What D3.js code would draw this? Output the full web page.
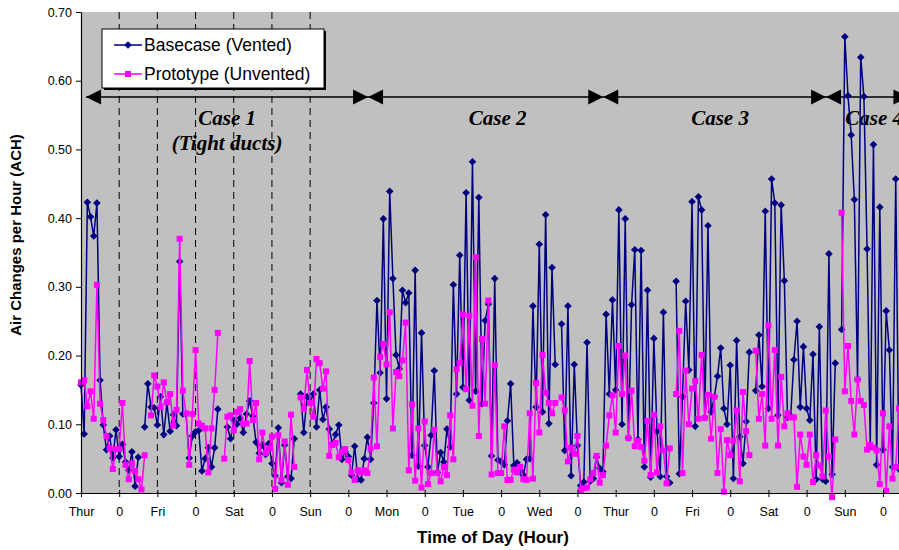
<!DOCTYPE html>
<html>
<head>
<meta charset="utf-8">
<script src="https://cdn.jsdelivr.net/npm/d3@7"></script>
<style>
body { margin: 0; background: #fff; }
text { font-family: Arial, "Liberation Sans", sans-serif; }
</style>
</head>
<body>
<div class="chart"></div>
<script>
// hourly readings starting Thursday noon, null = missing hour
var basecase = [
    0.157,0.086,0.423,0.402,0.374,0.422,0.164,0.099,0.063,0.083,
    0.051,0.092,0.053,0.071,0.045,0.033,0.060,0.010,0.052,null,
    0.096,0.159,0.125,0.124,0.099,0.140,0.085,0.131,0.090,0.114,
    0.098,0.337,0.115,0.115,0.051,0.083,0.089,0.091,0.032,0.050,
    0.066,0.038,0.066,0.122,null,null,0.096,0.079,0.106,0.100,
    0.109,0.088,0.115,0.134,0.112,0.074,0.058,0.070,0.056,0.072,
    0.043,0.025,0.095,0.015,0.070,0.024,0.021,0.079,null,0.144,
    0.088,0.140,0.131,0.144,0.096,0.150,0.107,0.125,0.093,0.072,
    0.085,0.099,0.049,0.060,0.053,0.026,0.068,0.020,0.019,0.050,
    0.081,0.049,0.131,0.280,0.175,0.399,0.137,0.439,0.312,0.201,
    0.181,0.295,0.277,0.291,0.055,0.324,0.039,0.233,0.069,0.038,
    0.084,0.178,0.030,0.059,0.045,0.093,0.067,0.303,0.144,0.346,
    0.154,0.437,0.135,0.482,0.148,0.430,0.130,0.251,0.275,0.054,
    0.312,0.048,0.046,0.041,0.105,0.159,0.040,0.044,0.033,0.026,
    0.049,0.050,0.272,0.125,0.362,0.118,0.405,0.101,0.328,0.187,
    null,0.246,0.062,0.272,0.025,0.187,0.069,0.011,0.016,0.219,
    0.017,0.021,0.052,0.036,0.031,0.260,0.144,0.281,0.150,0.412,
    0.100,0.399,0.080,0.274,0.354,0.078,0.353,0.038,0.295,0.023,
    0.225,0.090,0.024,0.263,0.024,0.015,null,0.308,0.028,0.140,
    0.279,0.179,0.424,0.097,0.431,0.412,0.110,0.389,0.118,0.140,
    0.170,0.211,0.123,0.100,0.186,0.021,0.222,0.082,0.043,0.104,
    0.205,null,0.149,0.230,0.155,0.410,0.123,0.457,0.422,0.113,
    0.419,0.309,0.110,0.112,0.194,0.250,0.125,0.213,0.123,0.106,
    0.202,0.020,0.242,0.020,0.017,0.348,0.027,0.189,null,0.238,
    0.664,0.578,0.521,0.427,0.165,0.634,0.577,0.355,0.068,0.507,
    0.041,0.416,0.063,0.265,0.208,0.038,0.457,0.035,0.100
];
var prototype = [
    0.161,0.164,0.126,0.148,0.108,0.303,0.130,0.106,0.083,0.065,
    0.035,0.064,0.064,0.131,0.041,0.020,0.043,0.032,0.020,0.005,
    0.055,null,0.113,0.171,0.155,0.125,0.161,0.132,0.144,0.098,
    0.121,0.370,0.149,0.116,0.041,0.115,0.208,0.101,0.098,0.094,
    0.030,0.094,0.150,0.233,null,0.050,0.111,0.113,0.091,0.118,
    0.122,0.101,0.101,0.192,0.106,0.131,0.049,0.088,0.058,0.065,
    0.082,0.006,0.084,0.019,0.075,0.012,0.114,0.038,null,0.139,
    0.122,0.179,0.131,0.111,0.195,0.189,0.152,0.177,0.054,0.070,
    0.073,0.052,0.060,0.064,0.048,0.030,0.019,0.033,0.030,0.033,
    0.029,0.065,0.168,0.068,0.198,0.217,0.187,0.263,0.094,0.176,
    0.170,0.193,0.248,0.033,0.129,0.018,0.094,0.008,0.104,0.013,
    0.029,0.092,0.029,0.017,0.038,0.026,0.113,0.049,0.180,0.189,
    0.260,0.151,0.258,0.127,0.343,0.083,0.224,0.130,0.280,0.027,
    0.186,0.029,0.029,0.097,0.019,0.019,0.034,0.030,0.038,0.020,
    0.019,0.116,0.021,0.160,0.088,0.201,0.146,0.131,0.116,0.131,
    null,0.139,0.120,0.046,0.066,0.057,0.083,0.004,0.007,0.008,
    0.020,0.029,0.054,0.015,0.026,0.069,0.113,0.142,0.088,0.214,
    0.144,0.200,0.080,0.149,0.068,0.076,0.067,0.047,0.105,0.026,
    0.114,0.030,0.097,0.062,0.014,0.065,null,0.144,0.236,0.029,
    0.178,0.100,0.152,0.163,0.108,0.201,0.109,0.143,0.079,0.140,
    0.029,0.093,0.002,0.077,0.055,0.076,0.120,0.017,0.147,0.090,
    0.055,null,0.207,0.108,0.144,0.069,0.244,0.108,0.208,0.069,
    0.169,0.097,0.116,0.110,0.110,0.009,0.085,0.053,0.041,0.085,
    0.016,0.055,0.040,0.024,0.120,0.053,-0.006,0.078,null,0.408,
    0.148,0.214,0.134,0.085,0.165,0.134,0.128,0.063,0.070,0.066,
    0.062,0.013,0.116,0.003,0.097,0.021,0.038,0.123,0.090
];
var tickLabels = ["Thur","0","Fri","0","Sat","0","Sun","0","Mon","0","Tue",
    "0","Wed","0","Thur","0","Fri","0","Sat","0","Sun","0"];
var yTicks = [0, 0.1, 0.2, 0.3, 0.4, 0.5, 0.6, 0.7];
var dashedHours = [12, 24, 36, 48, 60, 72];
var caseNames = ["Case 1", "Case 2", "Case 3", "Case 4"];
var caseFrom = [1.6, 90.2, 164.1, 234.1];
var caseTo = [90.2, 164.1, 234.1, 260];
var caseLabelAt = [45.9, 130.9, 200.8, 249.2];
var seriesNames = ["Basecase (Vented)", "Prototype (Unvented)"];

var W = 899, H = 550;
var plotLeft = 81, plotTop = 12, plotBottom = 493;
var pxPerHour = (883 - 81) / 252;

var svg = d3.select(".chart").append("svg")
    .attr("width", W)
    .attr("height", H);

var x = d3.scaleLinear().domain([0, 260]).range([plotLeft, plotLeft + 260 * pxPerHour]);
var y = d3.scaleLinear().domain([0, 0.7]).range([plotBottom, plotTop]);

// plot area
svg.append("rect")
    .attr("x", plotLeft).attr("y", plotTop)
    .attr("width", W - plotLeft).attr("height", plotBottom - plotTop)
    .attr("fill", "#c0c0c0");

svg.selectAll(".dash")
    .data(dashedHours)
    .enter()
    .append("line")
    .attr("x1", function(d) { return x(d) }).attr("x2", function(d) { return x(d) })
    .attr("y1", plotTop).attr("y2", plotBottom)
    .style("stroke", "#000")
    .style("stroke-width", 1)
    .style("stroke-dasharray", "7,5");

// case arrows
var arrowY = 97;
for (var i = 0; i < caseNames.length; i++) {
    var x0 = x(caseFrom[i]), x1 = x(caseTo[i]);
    svg.append("line")
        .attr("x1", x0).attr("x2", x1)
        .attr("y1", arrowY).attr("y2", arrowY)
        .style("stroke", "#000").style("stroke-width", 1.5);
    svg.append("path")
        .attr("d", "M" + x0 + "," + arrowY + "L" + (x0 + 15) + "," + (arrowY - 7.5) + "L" + (x0 + 15) + "," + (arrowY + 7.5) + "Z")
        .attr("fill", "#000");
    svg.append("path")
        .attr("d", "M" + x1 + "," + arrowY + "L" + (x1 - 15) + "," + (arrowY - 7.5) + "L" + (x1 - 15) + "," + (arrowY + 7.5) + "Z")
        .attr("fill", "#000");
    svg.append("text")
        .attr("x", x(caseLabelAt[i])).attr("y", 125)
        .attr("text-anchor", "middle")
        .style("font-family", "'Liberation Serif', 'Times New Roman', serif")
        .style("font-weight", "bold").style("font-style", "italic")
        .style("font-size", "21px")
        .text(caseNames[i]);
}
svg.append("text")
    .attr("x", x(caseLabelAt[0])).attr("y", 150)
    .attr("text-anchor", "middle")
    .style("font-family", "'Liberation Serif', 'Times New Roman', serif")
    .style("font-weight", "bold").style("font-style", "italic")
    .style("font-size", "21px")
    .text("(Tight ducts)");

// series
var colors = ["#000080", "#ff00ff"];
var allSeries = [basecase, prototype];
var line = d3.line()
    .defined(function(d) { return d.v != null })
    .x(function(d) { return x(d.h) })
    .y(function(d) { return y(d.v) });
var diamond = "M0,-3.8L3.8,0L0,3.8L-3.8,0Z";

allSeries.forEach(function(vals, k) {
    var pts = vals.map(function(v, i) { return {h: i, v: v} });
    svg.append("path")
        .datum(pts)
        .attr("d", line)
        .attr("fill", "none")
        .style("stroke", colors[k])
        .style("stroke-width", 1.5);
    var good = pts.filter(function(d) { return d.v != null });
    if (k == 0) {
        svg.selectAll(".mk0").data(good).enter().append("path")
            .attr("class", "mk0")
            .attr("d", diamond)
            .attr("transform", function(d) { return "translate(" + x(d.h) + "," + y(d.v) + ")" })
            .attr("fill", colors[k]);
    } else {
        svg.selectAll(".mk1").data(good).enter().append("rect")
            .attr("class", "mk1")
            .attr("x", function(d) { return x(d.h) - 3 })
            .attr("y", function(d) { return y(d.v) - 3 })
            .attr("width", 6).attr("height", 6)
            .attr("fill", colors[k]);
    }
});

// axes
var yAxis = d3.axisLeft(y)
    .tickValues(yTicks)
    .tickFormat(d3.format(".2f"))
    .tickSizeInner(5).tickSizeOuter(0);
var gy = svg.append("g").attr("transform", "translate(" + plotLeft + ",0)").call(yAxis);
gy.selectAll("text").style("font-size", "12.5px").attr("x", -9);

var xAxis = d3.axisBottom(x)
    .tickValues(d3.range(0, 253, 12))
    .tickFormat(function(d, i) { return tickLabels[i] })
    .tickSizeInner(4).tickSizeOuter(0);
var gx = svg.append("g").attr("transform", "translate(0," + plotBottom + ")").call(xAxis);
gx.selectAll("line").attr("y1", -3);
gx.selectAll("text").style("font-size", "12.5px").attr("y", 14);
svg.selectAll(".domain").style("stroke", "#000").style("stroke-width", 1.2);

svg.append("text")
    .attr("x", 493).attr("y", 543)
    .attr("text-anchor", "middle")
    .style("font-weight", "bold").style("font-size", "17px")
    .text("Time of Day (Hour)");
svg.append("text")
    .attr("transform", "translate(21,235) rotate(-90)")
    .attr("text-anchor", "middle")
    .style("font-weight", "bold").style("font-size", "15px")
    .text("Air Changes per Hour (ACH)");

// legend
var lg = svg.append("g").attr("transform", "translate(102,29)");
lg.append("rect").attr("x", 2).attr("y", 2).attr("width", 222).attr("height", 59).attr("fill", "#000");
lg.append("rect").attr("x", 0).attr("y", 0).attr("width", 222).attr("height", 59)
    .attr("fill", "#fff").style("stroke", "#000").style("stroke-width", 1);
seriesNames.forEach(function(name, k) {
    var cy = 16 + k * 29;
    lg.append("line").attr("x1", 12).attr("x2", 40).attr("y1", cy).attr("y2", cy)
        .style("stroke", colors[k]).style("stroke-width", 1.5);
    if (k == 0) {
        lg.append("path").attr("d", diamond).attr("transform", "translate(26," + cy + ")").attr("fill", colors[k]);
    } else {
        lg.append("rect").attr("x", 23).attr("y", cy - 3).attr("width", 6).attr("height", 6).attr("fill", colors[k]);
    }
    lg.append("text").attr("x", 42).attr("y", cy + 6)
        .style("font-size", "17.5px")
        .text(name);
});
</script>
</body>
</html>
